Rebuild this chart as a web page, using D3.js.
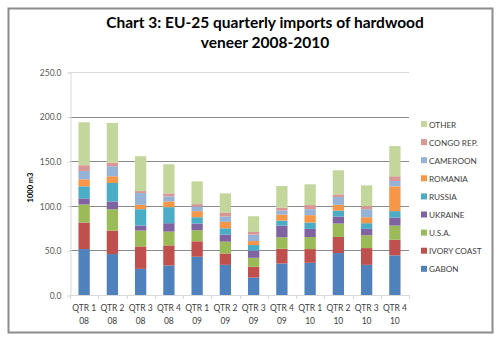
<!DOCTYPE html>
<html>
<head>
<meta charset="utf-8">
<script src="https://cdn.jsdelivr.net/npm/d3@7"></script>
<style>
  body { margin: 0; background: #fff; }
  svg text { font-family: Lato, "Open Sans", sans-serif; }
</style>
</head>
<body>
<div id="chart"></div>
<script>
// quarters on the x axis (two line labels)
const quarters = ["QTR 1", "QTR 2", "QTR 3", "QTR 4", "QTR 1", "QTR 2", "QTR 3", "QTR 4", "QTR 1", "QTR 2", "QTR 3", "QTR 4"];
const years = ["08", "08", "08", "08", "09", "09", "09", "09", "10", "10", "10", "10"];

// supplier countries, bottom of the stack first
const countries = ["GABON", "IVORY COAST", "U.S.A.", "UKRAINE", "RUSSIA", "ROMANIA", "CAMEROON", "CONGO REP.", "OTHER"];

// 1000 m3 per quarter
const gabon      = [51.5, 45.9, 29.3, 33.1, 42.9, 33.8, 19.5, 35.3, 36.1, 47.0, 33.8, 44.4];
const ivoryCoast = [29.7, 26.3, 25.2, 22.5, 17.3, 12.8, 12.1, 16.6, 15.4, 18.0, 18.8, 17.6];
const usa        = [20.3, 24.0, 17.7, 15.5, 12.4, 13.2, 10.1, 12.8, 13.5, 15.1, 14.3, 15.8];
const ukraine    = [6.8, 8.7, 5.6, 9.4, 7.5, 7.9, 7.9, 13.1, 9.1, 7.9, 7.2, 9.0];
const russia     = [13.5, 20.7, 18.4, 18.0, 7.1, 7.1, 6.4, 5.7, 7.1, 6.7, 6.4, 7.2];
const romania    = [7.9, 7.5, 4.9, 6.4, 6.8, 7.2, 4.5, 6.7, 8.3, 6.4, 6.7, 27.8];
const cameroon   = [9.4, 11.3, 13.2, 5.6, 5.2, 6.0, 7.2, 4.5, 6.7, 8.7, 9.0, 6.0];
const congo      = [6.4, 4.1, 2.2, 3.4, 2.7, 4.5, 3.0, 3.4, 4.6, 3.0, 3.4, 5.3];
const other      = [48.1, 44.4, 39.1, 32.7, 25.5, 21.4, 17.6, 24.1, 23.3, 27.0, 23.3, 33.8];

const yTicks = [0, 50, 100, 150, 200, 250];
const colors = ["#4f81bd", "#c0504d", "#9bbb59", "#8064a2", "#4bacc6", "#f79646", "#95b3d7", "#d99694", "#c3d69b"];

const series = [gabon, ivoryCoast, usa, ukraine, russia, romania, cameroon, congo, other];

const width = 503, height = 342;
const plot = {left: 70, right: 409, top: 72, bottom: 295};

const svg = d3.select("#chart").append("svg")
  .attr("width", width)
  .attr("height", height);

// outer chart frame
svg.append("rect")
  .attr("x", 8.5).attr("y", 8.5)
  .attr("width", 484).attr("height", 324)
  .attr("fill", "#fff")
  .attr("stroke", "#8c8c8c")
  .attr("stroke-width", 2);

svg.append("text")
  .attr("x", 265).attr("y", 28)
  .attr("text-anchor", "middle")
  .attr("font-size", 15.5).attr("font-weight", "bold")
  .attr("fill", "#000")
  .text("Chart 3: EU-25 quarterly imports of hardwood");
svg.append("text")
  .attr("x", 265).attr("y", 48)
  .attr("text-anchor", "middle")
  .attr("font-size", 15.5).attr("font-weight", "bold")
  .attr("fill", "#000")
  .text("veneer 2008-2010");

const idx = d3.range(quarters.length);
const x = d3.scaleBand()
  .domain(idx)
  .range([plot.left, plot.right])
  .paddingInner(0.6).paddingOuter(0.3);

const y = d3.scaleLinear()
  .domain([0, 250])
  .range([plot.bottom, plot.top]);

// gridlines
svg.append("g")
  .selectAll("line")
  .data(yTicks.filter(d => d > 0))
  .join("line")
  .attr("x1", plot.left).attr("x2", plot.right)
  .attr("y1", d => Math.round(y(d)) + 0.5)
  .attr("y2", d => Math.round(y(d)) + 0.5)
  .attr("stroke", d => d === 250 ? "#d9d9d9" : "#8c8c8c");

// y axis
const yAxis = d3.axisLeft(y)
  .tickValues(yTicks)
  .tickSize(3)
  .tickPadding(6)
  .tickFormat(d3.format(".1f"));
const gy = svg.append("g")
  .attr("transform", `translate(${plot.left + 0.5},0.5)`)
  .call(yAxis);
gy.select(".domain").attr("stroke", "#d9d9d9");
gy.selectAll(".tick line").attr("stroke", "#d9d9d9");
gy.selectAll(".tick text")
  .attr("font-size", 8.5)
  .attr("fill", "#595959");

svg.append("text")
  .attr("transform", `translate(33,${(plot.top + plot.bottom) / 2 + 4}) rotate(-90)`)
  .attr("text-anchor", "middle")
  .attr("font-size", 7.5).attr("font-weight", "bold")
  .attr("fill", "#000")
  .text("1000 m3");

// stacked bars
const table = idx.map(i => {
  const row = {i};
  countries.forEach((c, k) => { row[c] = series[k][i]; });
  return row;
});
const stacked = d3.stack().keys(countries)(table);

svg.append("g")
  .selectAll("g")
  .data(stacked)
  .join("g")
  .attr("fill", (d, k) => colors[k])
  .selectAll("rect")
  .data(d => d)
  .join("rect")
  .attr("x", d => x(d.data.i))
  .attr("width", x.bandwidth())
  .attr("y", d => y(d[1]))
  .attr("height", d => y(d[0]) - y(d[1]));

// x axis line and ticks between categories
svg.append("line")
  .attr("x1", plot.left).attr("x2", plot.right)
  .attr("y1", plot.bottom + 0.5).attr("y2", plot.bottom + 0.5)
  .attr("stroke", "#d9d9d9");
svg.append("g")
  .selectAll("line")
  .data(d3.range(quarters.length + 1))
  .join("line")
  .attr("x1", i => Math.round(plot.left + i * (plot.right - plot.left) / quarters.length) + 0.5)
  .attr("x2", i => Math.round(plot.left + i * (plot.right - plot.left) / quarters.length) + 0.5)
  .attr("y1", plot.bottom).attr("y2", plot.bottom + 4)
  .attr("stroke", "#d9d9d9");

const xl = svg.append("g")
  .selectAll("text")
  .data(idx)
  .join("text")
  .attr("text-anchor", "middle")
  .attr("font-size", 8.5)
  .attr("fill", "#404040");
xl.append("tspan")
  .attr("x", i => x(i) + x.bandwidth() / 2)
  .attr("y", 311)
  .text(i => quarters[i]);
xl.append("tspan")
  .attr("x", i => x(i) + x.bandwidth() / 2)
  .attr("y", 324)
  .text(i => years[i]);

// legend, top entry is the last series
const legend = svg.append("g")
  .selectAll("g")
  .data(countries.map((c, k) => ({c, k})).reverse())
  .join("g")
  .attr("transform", (d, j) => `translate(421,${121 + j * 18.1})`);
legend.append("rect")
  .attr("width", 6).attr("height", 6)
  .attr("fill", d => colors[d.k]);
legend.append("text")
  .attr("x", 8).attr("y", 6.5)
  .attr("font-size", 8.2)
  .attr("fill", "#404040")
  .text(d => d.c);
</script>
</body>
</html>
